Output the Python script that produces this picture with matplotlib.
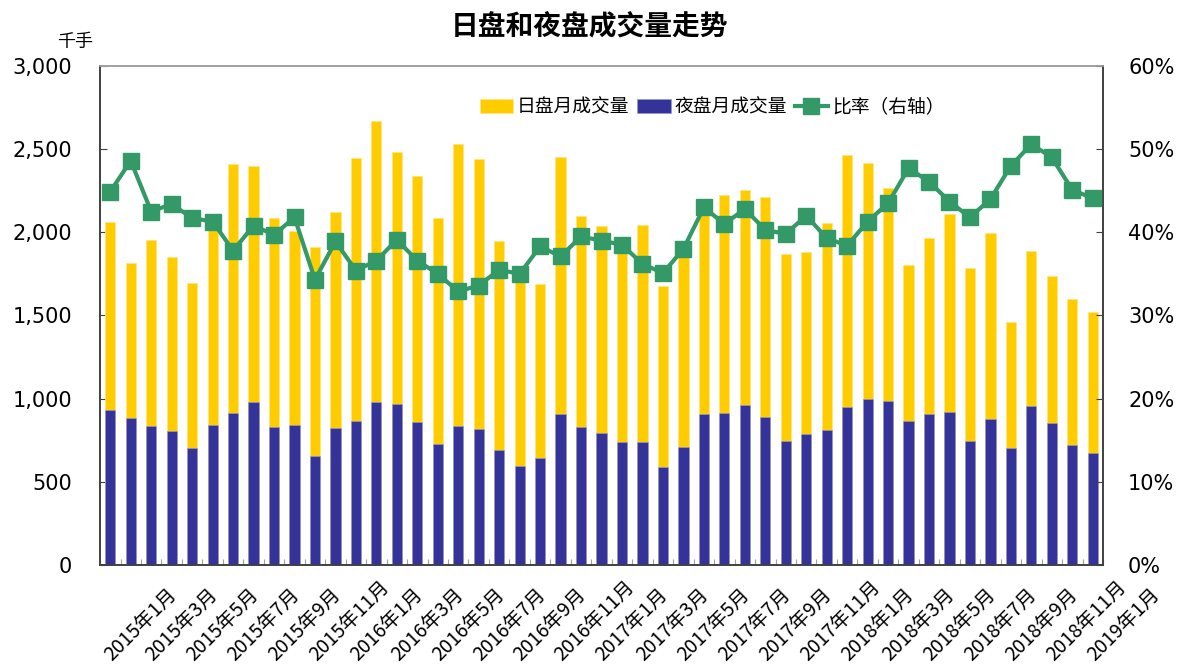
import numpy as np
import matplotlib
matplotlib.use("Agg")
import matplotlib.pyplot as plt
from matplotlib.ticker import FuncFormatter, PercentFormatter

plt.rcParams['font.family'] = ['DejaVu Sans', 'Noto Sans CJK SC']

# month labels, every bar is one month from 2015-01 to 2019-01
months = []
for y in range(2015, 2020):
    for m in range(1, 13):
        months.append("%d年%d月" % (y, m))
months = months[:49]

# thousand lots
day_vol = [2064, 1818, 1956, 1854, 1694, 2030, 2410, 2400, 2084, 2010,
           1914, 2122, 2446, 2670, 2482, 2338, 2084, 2532, 2440, 1950,
           1710, 1690, 2454, 2098, 2038, 1930, 2042, 1676, 1865, 2115,
           2226, 2256, 2212, 1870, 1880, 2058, 2464, 2416, 2266, 1806,
           1968, 2110, 1788, 1994, 1458, 1886, 1740, 1598, 1518]
night_vol = [930, 886, 834, 804, 706, 842, 912, 982, 830, 842,
             654, 824, 864, 978, 968, 858, 730, 834, 820, 690,
             598, 646, 910, 828, 796, 742, 742, 588, 708, 910,
             912, 964, 888, 744, 790, 810, 950, 998, 986, 864,
             908, 922, 744, 876, 702, 958, 852, 720, 672]
# night / day, percent
ratio = [44.9, 48.6, 42.5, 43.4, 41.7, 41.3, 37.8, 40.8, 39.7, 41.8,
         34.3, 38.9, 35.4, 36.6, 39.1, 36.6, 35.0, 32.9, 33.6, 35.5,
         35.0, 38.3, 37.1, 39.5, 39.0, 38.5, 36.2, 35.1, 38.0, 43.0,
         41.0, 42.8, 40.3, 39.8, 42.0, 39.3, 38.4, 41.3, 43.5, 47.7,
         46.1, 43.7, 41.8, 44.0, 48.0, 50.6, 49.0, 45.1, 44.1]

x = np.arange(len(months))

fig = plt.figure(figsize=(11.84, 6.66), dpi=100)
ax = fig.add_axes([0.0845, 0.1517, 0.8471, 0.7492])
ax2 = ax.twinx()

b1 = ax.bar(x, day_vol, width=0.5, color='#FFCC00', edgecolor='#FFE680', linewidth=0.5, label='日盘月成交量', zorder=2)
b2 = ax.bar(x, night_vol, width=0.5, color='#333399', edgecolor='#9999CC', linewidth=0.5, label='夜盘月成交量', zorder=3)
l1, = ax2.plot(x, np.array(ratio) / 100, color='#339966', lw=3, marker='s', markersize=11, label='比率（右轴）', zorder=4)

ax.set_xlim(-0.5, len(months) - 0.5)
ax.set_ylim(0, 3000)
ax.set_yticks(np.arange(0, 3001, 500))
ax.yaxis.set_major_formatter(FuncFormatter(lambda v, p: format(int(v), ',')))
ax2.set_ylim(0, 0.6)
ax2.set_yticks(np.arange(0, 0.61, 0.1))
ax2.yaxis.set_major_formatter(PercentFormatter(1.0, decimals=0))

ax.set_xticks(np.arange(-0.5, len(months), 1))
ax.set_xticklabels([])
ax.tick_params(axis='x', direction='in', length=4, color='#A0A0A0')
ax.tick_params(axis='y', direction='in', length=5, labelsize=15, pad=20, color='#404040')
ax2.tick_params(axis='y', direction='in', length=5, labelsize=15, pad=18, color='#404040')

for a in (ax, ax2):
    for s in a.spines.values():
        s.set_color('#404040')
        s.set_linewidth(1.2)
ax2.spines['top'].set_color('#A0A0A0')
ax.spines['top'].set_color('#A0A0A0')

# rotated month labels, every other month
for i in range(0, len(months), 2):
    ax.text(i + 0.25, -0.2, months[i], transform=ax.get_xaxis_transform(),
            rotation=45, rotation_mode='anchor', ha='left', va='bottom',
            fontsize=14, family=['Noto Sans CJK SC'])

fig.text(0.4975, 0.96, '日盘和夜盘成交量走势', ha='center', va='center',
         fontsize=20, fontweight='bold', family=['Noto Sans CJK SC'])
fig.text(0.063, 0.937, '千手', ha='center', va='center', fontsize=13, family=['Noto Sans CJK SC'])

leg = fig.legend([b1, b2, l1], ['日盘月成交量', '夜盘月成交量', '比率（右轴）'],
                 loc='center', bbox_to_anchor=(712 / 1184, 1 - 107 / 666), ncol=3,
                 frameon=False, handlelength=1.8, handleheight=0.8, handletextpad=0.2,
                 columnspacing=0.4, prop={'family': 'Noto Sans CJK SC', 'size': 13.5})

fig.savefig('out.png', dpi=100)
